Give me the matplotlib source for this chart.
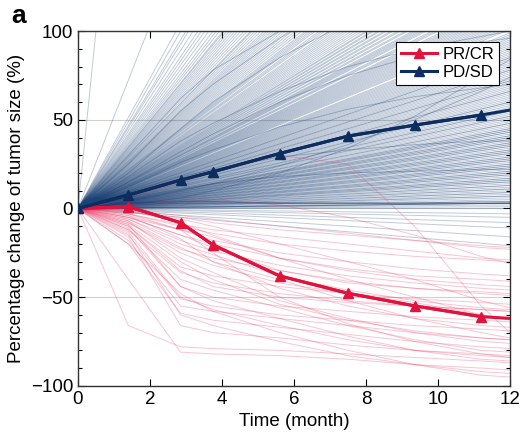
import matplotlib
matplotlib.use("Agg")
import matplotlib.pyplot as plt
from matplotlib.ticker import MultipleLocator
from matplotlib.lines import Line2D

plt.rcParams['font.family'] = ['Liberation Sans', 'DejaVu Sans']

# Visit times (months) used for the group means and the responder curves
visit_t = [0, 1.4, 2.85, 3.75, 5.6, 7.5, 9.35, 11.2, 12]

# Group mean percentage change of tumour size
pr_cr_mean = [0, 1, -8, -20.5, -38, -47.8, -54.9, -61, -62]
pd_sd_mean = [0, 7.6, 16, 20.7, 31, 40.8, 47, 52.7, 55.5]

# Individual PR/CR patients (values at visit_t)
pr_cr_patients = [
    [0, -2, -5, -8, -12, -15, -18, -21, -22],
    [0, -3, -10, -14, -20, -24, -27, -29, -30],
    [0, -5, -12, -18, -25, -30, -34, -37, -38],
    [0, -1, -8, -15, -28, -35, -40, -43, -44],
    [0, -6, -18, -24, -32, -38, -42, -45, -46],
    [0, -8, -23, -28, -35, -41, -45, -48, -49],
    [0, -10, -33, -38, -44, -48, -51, -53, -54],
    [0, -12, -36, -42, -48, -52, -55, -57, -58],
    [0, -9, -44, -50, -55, -58, -61, -63, -64],
    [0, -15, -51, -55, -60, -63, -66, -68, -69],
    [0, -18, -55, -58, -62, -66, -70, -73, -74],
    [0, -20, -59, -63, -67, -71, -75, -78, -79],
    [0, -66, -78, -79, -80, -82, -84, -86, -87],
    [0, -40, -81, -82, -83, -85, -88, -90, -91],
    [0, -4, -17, -30, -45, -55, -62, -66, -67],
    [0, -7, -28, -36, -52, -62, -70, -75, -76],
    [0, -3, -12, -25, -50, -65, -75, -82, -84],
    [0, -11, -44, -52, -62, -72, -80, -85, -86],
    [0, -14, -60, -66, -75, -83, -88, -92, -93],
    [0, -2, -6, -10, -20, -30, -40, -52, -56],
    [0, -1, -4, -6, -10, -14, -18, -22, -23],
    [0, 2, 4, 5, 2, -5, -15, -27, -31],
    [0, -5, -15, -20, -28, -34, -38, -40, -41],
    [0, -6, -20, -26, -38, -46, -52, -56, -57],
    [0, -9, -30, -40, -54, -63, -69, -73, -74],
    [0, -13, -50, -57, -66, -74, -80, -83, -84],
    [0, -8, -25, -32, -42, -48, -53, -60, -62],
    [0, -16, -66, -70, -73, -77, -80, -82, -83],
    [0, -3, -9, -12, -16, -20, -24, -28, -29],
    [0, 5, 15, 20, 30, 25, -10, -55, -70],
    [0, -4, -12, -16, -28, -40, -50, -60, -63],
    [0, -7, -22, -30, -40, -52, -62, -70, -73],
    [0, -12, -40, -46, -56, -66, -74, -80, -81],
    [0, -20, -48, -58, -70, -80, -88, -94, -95],
    [0, -5, -15, -22, -35, -42, -45, -47, -48],
    [0, -10, -35, -44, -50, -53, -55, -57, -58],
]

# Individual PD/SD patients: change at 12 months (roughly linear growth)
pd_sd_end = [
    2400, 620, 440, 420, 400, 390, 375, 360, 350, 340, 330, 320, 312,
    305, 298, 295, 290, 285, 280, 275, 270, 265, 260, 255, 250, 248, 244,
    240, 236, 232, 229, 226, 223, 220, 217, 214, 211, 208, 205, 202, 199,
    196, 193, 190, 188, 186, 184, 182, 179, 177, 175, 172, 170, 168, 166,
    164, 162, 160, 158, 156, 154, 152, 150, 149, 147, 146, 144, 143, 141,
    140, 138, 137, 135, 134, 132, 131, 129, 128, 127, 126, 125, 124, 122,
    121, 120, 118, 117, 116, 115, 114, 113, 112, 111, 110, 109, 108, 107,
    106, 105, 104, 103, 102, 101,
    99, 98, 97, 96, 95, 94, 93, 92, 91, 90, 89, 88, 87, 86, 85, 84, 83, 82,
    81, 80, 79, 78, 77, 76, 75, 74, 73, 72, 71, 70, 69, 68, 67, 66, 65, 64,
    63, 62, 61, 60, 59, 58, 57, 56, 55, 54, 53, 52, 51, 50, 49, 48, 47, 46,
    45, 44, 43, 42, 41, 40, 39, 38, 37, 36, 35, 34, 33, 32, 31, 30, 29, 28,
    27, 26, 25, 24, 23, 22, 21, 20, 19, 18, 17, 16, 15, 14, 13, 12, 11, 10,
    9, 8, 7, 6, 5, 4, 3, 3, 3, 3, 2, 1, 0,
    -3, -5, -8, -11, -16, -21,
    85, 78, 72, 66, 60, 55, 52, 48, 45, 43, 41, 39, 37, 35, 33, 31, 29, 27,
    25, 23, 21, 19, 17, 15, 13, 11, 9, 7, 44, 40, 36, 32, 28, 24, 20, 16,
]

# A few PD/SD patients with curved trajectories (values at visit_t)
pd_sd_curved = [
    [0, 20, 45, 60, 85, 105, 120, 132, 136],
    [0, 15, 32, 42, 60, 75, 86, 94, 96],
    [0, 12, 26, 33, 46, 56, 63, 68, 70],
    [0, 4, 10, 14, 24, 36, 50, 66, 74],
    [0, 9, 18, 22, 29, 33, 36, 38, 38],
    [0, 6, 11, 14, 18, 20, 21, 22, 22],
    [0, 2, 6, 10, 20, 34, 52, 74, 84],
    [0, 25, 55, 70, 96, 118, 135, 150, 156],
    [0, 30, 62, 78, 100, 115, 125, 132, 134],
    [0, 18, 38, 48, 66, 80, 90, 97, 100],
    [0, 3, 4, 4, 3, 3, 3, 3, 3],
    [0, 3, 4, 4, 3, 3, 3, 3, 3],
    [0, 2, 3, 3, 3, 3, 3, 4, 4],
    [0, 3, 3, 3, 3, 3, 3, 3, 3],
]

RED = '#e3123d'
PINK = '#e8416a'
NAVY = '#0c2d5f'
THIN_BLUE = '#1d4275'

fig = plt.figure(figsize=(5.23, 4.45), dpi=100)
ax = fig.add_axes([0.149, 0.133, 0.826, 0.797])

for v in pd_sd_end:
    ax.plot([0, 12], [0, v], color=THIN_BLUE, lw=0.7, alpha=0.28, zorder=2)
for row in pd_sd_curved:
    ax.plot(visit_t, row, color=THIN_BLUE, lw=0.7, alpha=0.3, zorder=2)
for row in pr_cr_patients:
    ax.plot(visit_t, row, color=PINK, lw=0.7, alpha=0.3, zorder=2)

ax.plot(visit_t[:-1], pr_cr_mean[:-1], color=RED, lw=2.2, marker='^', ms=7,
        zorder=5)
ax.plot(visit_t, pr_cr_mean, color=RED, lw=2.2, zorder=5)
ax.plot(visit_t[:-1], pd_sd_mean[:-1], color=NAVY, lw=2.2, marker='^', ms=7,
        zorder=5)
ax.plot(visit_t, pd_sd_mean, color=NAVY, lw=2.2, zorder=5)

handles = [Line2D([], [], color=RED, lw=2.2, marker='^', ms=7),
           Line2D([], [], color=NAVY, lw=2.2, marker='^', ms=7)]
leg = ax.legend(handles, ['PR/CR', 'PD/SD'], loc='upper right',
                fontsize=12, handlelength=2.2, fancybox=False,
                edgecolor='black', framealpha=1, borderpad=0.3,
                labelspacing=0.2, handletextpad=0.3,
                bbox_to_anchor=(0.994, 0.993))
leg.get_frame().set_linewidth(0.8)
leg.set_zorder(10)

ax.set_xlim(0, 12)
ax.set_ylim(-100, 100)
ax.set_xticks([0, 2, 4, 6, 8, 10, 12])
ax.set_yticks([-100, -50, 0, 50, 100])
ax.yaxis.set_minor_locator(MultipleLocator(10))
ax.tick_params(which='both', direction='in', top=True, right=True,
               labelsize=13.5, width=0.8)
ax.tick_params(which='major', length=5)
ax.tick_params(which='minor', length=3)
ax.grid(axis='y', which='major', color='#d0d0d0', lw=0.8, zorder=0)
for s in ax.spines.values():
    s.set_linewidth(1.0)
    s.set_color('#333333')

ax.set_xlabel('Time (month)', fontsize=13.5)
ax.set_ylabel('Percentage change of tumor size (%)', fontsize=13.5)
fig.text(0.022, 0.948, 'a', fontsize=19, fontweight='bold')

fig.savefig('out.png', dpi=100)
